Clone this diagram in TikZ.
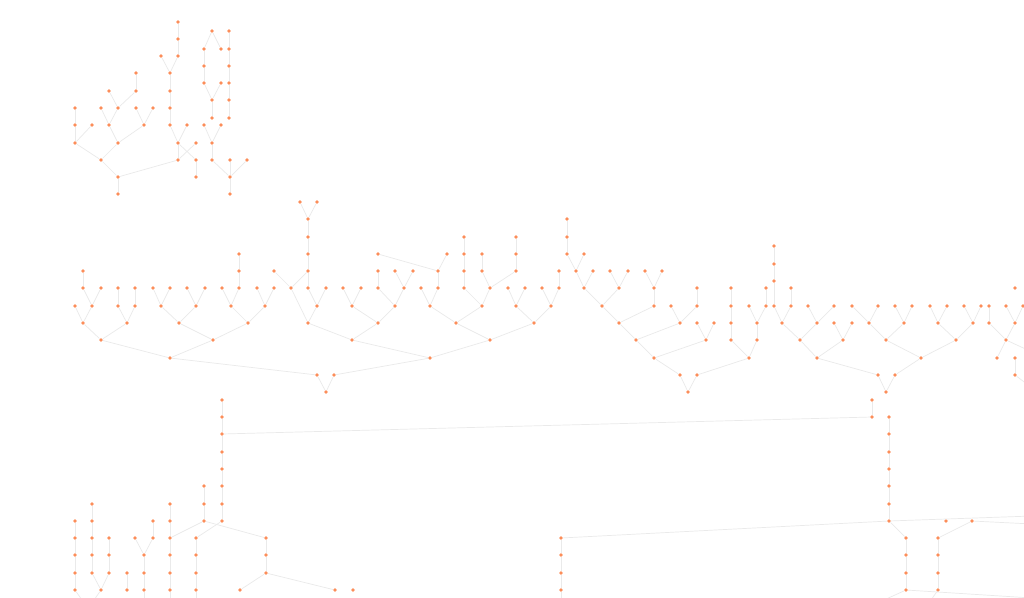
\documentclass[tikz,border=0pt]{standalone}
\usepackage{tikz}
\definecolor{dotorange}{RGB}{252,141,89}
\definecolor{linkgrey}{RGB}{234,234,234}
\tikzset{
  vtx/.style={circle,fill=dotorange,draw=none,inner sep=0pt,minimum size=3.8pt},
  link/.style={draw=linkgrey,line width=.7pt},
}

\begin{document}
\begin{tikzpicture}[x=1pt,y=-1pt]
  \fill[white] (0,0) rectangle (1024,597);
  \useasboundingbox (0,0) rectangle (1024,597);
  \clip (0,0) rectangle (1024,597);
  % ---------------- upper-left clusters ----------------
  \foreach \x/\y in {178/22,178/39,161/56,178/56,170/73,170/91,170/108,170/125,187/125,
      178/143,196/143,178/160,196/160,196/177,
      136/73,109/91,136/91,75/108,101/108,118/108,136/108,153/108,75/125,92/125,109/125,
      144/125,75/143,118/143,101/160,118/177,118/194,
      212/31,229/31,204/49,221/49,229/49,204/66,229/66,204/83,221/83,229/83,212/100,229/100,
      212/118,229/118,204/125,221/125,212/143,212/160,230/160,247/160,230/177,230/194}
    \node[vtx] (n\x-\y) at (\x,\y) {};
  % ---------------- middle band ----------------
  \foreach \x/\y in {300/202,317/202,308/219,308/237,239/254,308/254,83/271,239/271,274/271,
      308/271,567/219,464/237,516/237,567/237,378/254,447/254,464/254,482/254,516/254,
      567/254,584/254,774/246,774/264,774/281}
    \node[vtx] (n\x-\y) at (\x,\y) {};
  \foreach \x in {378,395,413,438,464,482,516,559,576,593,610,628,645,662}
    \node[vtx] (n\x-271) at (\x,271) {};
  \foreach \x in {83,101,118,135,153,170,187,205,222,239,257,274,291,308,326,343,361,378,
      404,421,438,464,490,508,525,542,559,584,619,654,697,731,766,791,1015}
    \node[vtx] (n\x-288) at (\x,288) {};
  \foreach \x in {75,92,118,135,161,196,231,265,317,352,395,430,482,516,551,602,654,671,
      697,731,749,766,774,791,808,834,852,878,895,912,930,947,964,981,989,1006,1023}
    \node[vtx] (n\x-306) at (\x,306) {};
  \foreach \x in {83,127,179,248,308,378,456,534,619,680,697,714,731,757,782,817,834,852,
      869,904,938,973,989,1015}
    \node[vtx] (n\x-323) at (\x,323) {};
  \foreach \x in {101,213,352,490,636,706,731,757,800,843,886,956,1006}
    \node[vtx] (n\x-340) at (\x,340) {};
  \foreach \x in {170,430,654,749,817,921,997,1015}
    \node[vtx] (n\x-358) at (\x,358) {};
  \foreach \x in {317,334,680,697,878,895,1015}
    \node[vtx] (n\x-375) at (\x,375) {};
  \foreach \x in {326,688,886}
    \node[vtx] (n\x-392) at (\x,392) {};
  % ---------------- lower band ----------------
  \foreach \x/\y in {222/400,222/417,222/434,222/452,222/469,204/486,222/486,92/504,170/504,
      204/504,222/504,872/400,872/417,889/417,889/434,889/452,889/469,889/486,889/504,
      889/521,946/521,972/521}
    \node[vtx] (n\x-\y) at (\x,\y) {};
  \foreach \x in {75,92,153,170,204,222}
    \node[vtx] (n\x-521) at (\x,521) {};
  \foreach \x in {75,92,109,135,153,170,196,266,561,906,938}
    \node[vtx] (n\x-538) at (\x,538) {};
  \foreach \x in {75,92,109,144,170,196,266,561,906,938}
    \node[vtx] (n\x-555) at (\x,555) {};
  \foreach \x in {75,92,109,127,144,170,196,266,561,906,938}
    \node[vtx] (n\x-573) at (\x,573) {};
  \foreach \x in {75,101,127,144,170,196,240,335,353,561,906,938}
    \node[vtx] (n\x-590) at (\x,590) {};
  % ---------------- links ----------------
  \foreach \ax/\ay/\bx/\by in {178/22/178/39,178/39/178/56,161/56/170/73,178/56/170/73,
      170/73/170/91,170/91/170/108,170/108/170/125,170/125/178/143,187/125/178/143,
      178/143/178/160,178/143/196/160,196/143/178/160,196/160/196/177,178/160/118/177,
      136/73/136/91,109/91/118/108,136/91/118/108,101/108/109/125,118/108/109/125,
      109/125/118/143,136/108/144/125,153/108/144/125,144/125/118/143,75/108/75/125,
      75/125/75/143,92/125/75/143,75/143/101/160,118/143/101/160,101/160/118/177,
      118/177/118/194,
      212/31/204/49,212/31/221/49,204/49/204/66,204/66/204/83,204/83/212/100,221/83/212/100,
      212/100/212/118,229/31/229/49,229/49/229/66,229/66/229/83,229/83/229/100,
      229/100/229/118,204/125/212/143,221/125/212/143,212/143/212/160,212/160/230/177,
      230/160/230/177,247/160/230/177,230/177/230/194}
    \draw[link] (n\ax-\ay) -- (n\bx-\by);
  \foreach \ax/\ay/\bx/\by in {300/202/308/219,317/202/308/219,308/219/308/237,
      308/237/308/254,308/254/308/271,308/271/308/288,274/271/291/288,308/271/291/288,
      239/254/239/271,239/271/239/288,83/271/83/288,
      83/288/92/306,101/288/92/306,75/306/83/323,92/306/83/323,
      118/288/118/306,118/306/127/323,135/288/135/306,135/306/127/323,
      153/288/161/306,170/288/161/306,161/306/179/323,187/288/196/306,205/288/196/306,
      196/306/179/323,222/288/231/306,239/288/231/306,231/306/248/323,257/288/265/306,
      274/288/265/306,265/306/248/323,83/323/101/340,127/323/101/340,179/323/213/340,
      248/323/213/340,101/340/170/358,213/340/170/358,
      291/288/308/323,308/288/317/306,326/288/317/306,317/306/308/323,308/323/352/340,
      343/288/352/306,361/288/352/306,352/306/378/323,
      170/358/317/375,317/375/326/392,334/375/326/392,334/375/430/358}
    \draw[link] (n\ax-\ay) -- (n\bx-\by);
  \foreach \ax/\ay/\bx/\by in {378/254/438/271,447/254/438/271,438/271/438/288,
      438/288/430/306,421/288/430/306,430/306/456/323,
      464/237/464/254,464/254/464/271,464/271/464/288,464/288/482/306,482/254/482/271,
      482/271/490/288,516/237/516/254,516/254/516/271,516/271/490/288,490/288/482/306,
      482/306/456/323,456/323/490/340,
      508/288/516/306,525/288/516/306,516/306/534/323,542/288/551/306,559/288/551/306,
      551/306/534/323,534/323/490/340,490/340/430/358,559/271/559/288,
      378/271/378/288,395/271/404/288,413/271/404/288,404/288/395/306,378/288/395/306,
      395/306/378/323,378/323/352/340,352/340/430/358,
      567/219/567/237,567/237/567/254,567/254/576/271,584/254/576/271,576/271/584/288,
      593/271/584/288,584/288/602/306,610/271/619/288,628/271/619/288,619/288/602/306,
      602/306/619/323,645/271/654/288,662/271/654/288,654/288/654/306,654/306/619/323,
      619/323/636/340,671/306/680/323,697/306/680/323,680/323/636/340,636/340/654/358,
      654/358/680/375,706/340/654/358}
    \draw[link] (n\ax-\ay) -- (n\bx-\by);
  \foreach \ax/\ay/\bx/\by in {697/288/697/306,697/323/706/340,714/323/706/340,
      731/288/731/306,731/306/731/323,731/323/731/340,731/340/749/358,749/306/757/323,
      766/306/757/323,766/288/766/306,757/323/757/340,757/340/749/358,749/358/697/375,
      680/375/688/392,697/375/688/392,
      774/246/774/264,774/264/774/281,774/281/774/306,774/306/782/323,791/288/791/306,
      791/306/782/323,782/323/800/340,808/306/817/323,834/306/817/323,817/323/800/340,
      800/340/817/358,834/323/843/340,852/323/843/340,843/340/817/358,817/358/878/375,
      852/306/869/323,878/306/869/323,869/323/886/340,895/306/904/323,912/306/904/323,
      904/323/886/340,886/340/921/358,930/306/938/323,947/306/938/323,938/323/956/340,
      964/306/973/323,981/306/973/323,973/323/956/340,956/340/921/358,921/358/895/375,
      878/375/886/392,895/375/886/392,
      989/306/989/323,989/323/1006/340,1006/306/1015/323,1023/306/1015/323,
      1015/323/1006/340,1006/340/997/358,1015/358/1015/375}
    \draw[link] (n\ax-\ay) -- (n\bx-\by);
  \foreach \ax/\ay/\bx/\by in {222/400/222/417,222/417/222/434,222/434/222/452,
      222/452/222/469,222/469/222/486,222/486/222/504,222/504/222/521,222/434/872/417,
      204/486/204/504,204/504/204/521,204/521/170/538,222/521/196/538,204/521/266/538,
      170/504/170/521,170/521/170/538,170/538/170/555,170/555/170/573,170/573/170/590,
      196/538/196/555,196/555/196/573,196/573/196/590,
      266/538/266/555,266/555/266/573,266/573/240/590,266/573/335/590,
      75/521/75/538,75/538/75/555,75/555/75/573,75/573/75/590,
      92/504/92/521,92/521/92/538,92/538/92/555,92/555/92/573,92/573/101/590,
      109/538/109/555,109/555/109/573,109/573/101/590,
      153/521/153/538,153/538/144/555,135/538/144/555,144/555/144/573,144/573/144/590,
      127/573/127/590,
      872/400/872/417,889/417/889/434,889/434/889/452,889/452/889/469,889/469/889/486,
      889/486/889/504,889/504/889/521,889/521/561/538,561/538/561/555,561/555/561/573,
      561/573/561/590,889/521/906/538,906/538/906/555,906/555/906/573,906/573/906/590,
      938/538/938/555,938/555/938/573,938/573/938/590,938/538/972/521}
    \draw[link] (n\ax-\ay) -- (n\bx-\by);
  % ---------------- links leaving the frame ----------------
  \foreach \ax/\ay/\cx/\cy [count=\i] in {1006/340/1032/352,1015/375/1032/388,
      889/521/1032/516,972/521/1032/524,906/590/1032/598,906/590/884/600,938/590/931/600,
      75/590/82/600,101/590/94/600,144/590/144/600,170/590/170/600,196/590/196/600,
      561/590/561/600}{
    \coordinate (off\i) at (\cx,\cy);
    \draw[link] (n\ax-\ay) -- (off\i);}
\end{tikzpicture}
\end{document}
